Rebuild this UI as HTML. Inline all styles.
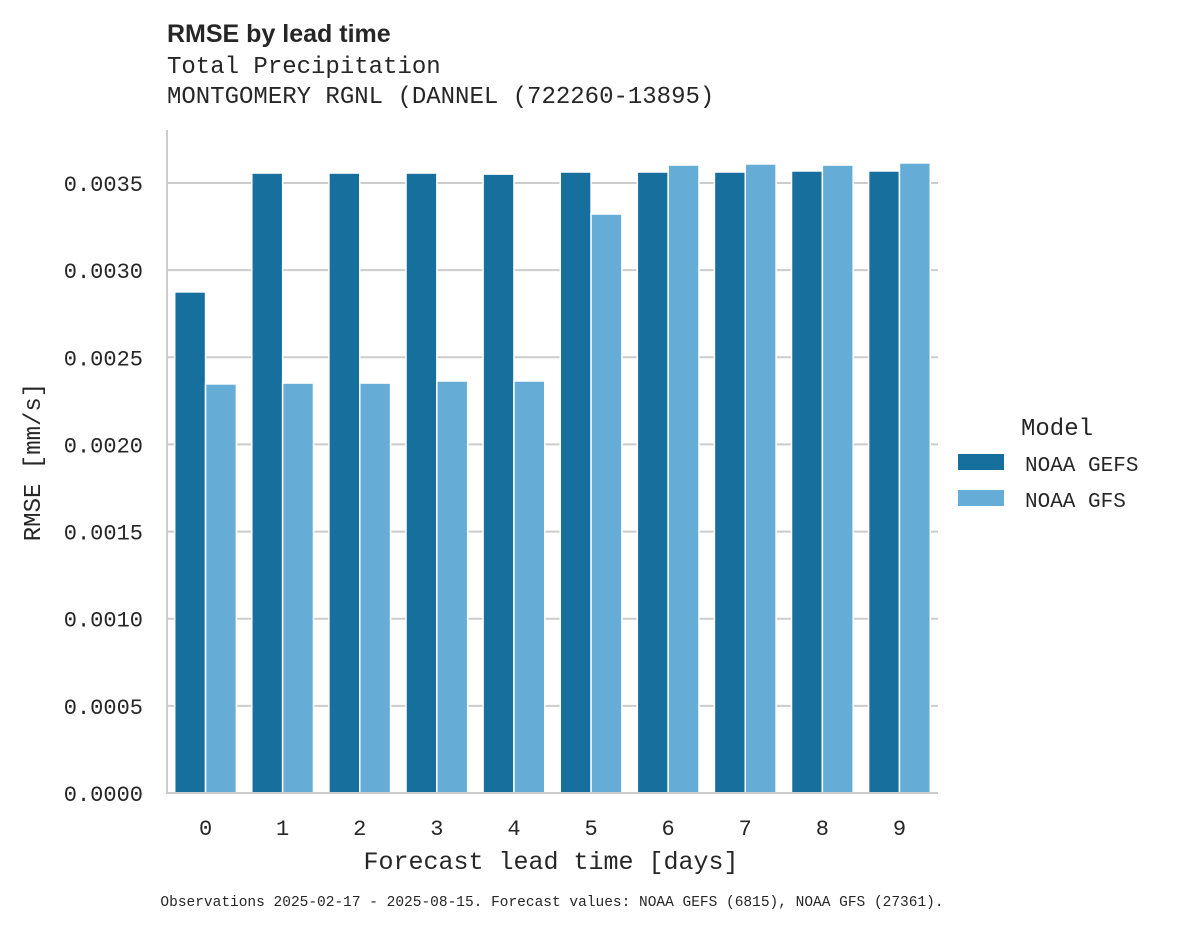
<!DOCTYPE html>
<html><head><meta charset="utf-8"><style>
html,body{margin:0;padding:0;background:#fff;width:1178px;height:928px;overflow:hidden}
svg text{font-family:"Liberation Mono",monospace;fill:#262626}
</style></head><body>
<svg id="chart" width="1178" height="928" xmlns="http://www.w3.org/2000/svg">
<text x="167" y="42" style="font-family:'Liberation Sans',sans-serif;font-weight:bold;font-size:25px">RMSE by lead time</text>
<text x="167" y="73" font-size="24">Total Precipitation</text>
<text x="167" y="103" font-size="24">MONTGOMERY RGNL (DANNEL (722260-13895)</text>
<g id="grid"></g>
<g id="bars"></g>
<line x1="167" y1="130" x2="167" y2="794" stroke="#cccccc" stroke-width="2"/>
<line x1="166" y1="793" x2="938" y2="793" stroke="#cccccc" stroke-width="2"/>
<g id="yticks"></g>
<g id="xticks"></g>
<text x="551" y="869" font-size="25" text-anchor="middle">Forecast lead time [days]</text>
<text transform="translate(40,462) rotate(-90)" font-size="24" text-anchor="middle">RMSE [mm/s]</text>
<text x="1057" y="435" font-size="24" text-anchor="middle">Model</text>
<g><rect x="958" y="454" width="46" height="16" fill="#176f9e"/><text x="1025" y="471" font-size="21">NOAA GEFS</text></g>
<g><rect x="958" y="490" width="46" height="16" fill="#65add6"/><text x="1025" y="507" font-size="21">NOAA GFS</text></g>
<text x="552" y="906" font-size="14.5" text-anchor="middle">Observations 2025-02-17 - 2025-08-15. Forecast values: NOAA GEFS (6815), NOAA GFS (27361).</text>
</svg>
<script>
const categories = ["0","1","2","3","4","5","6","7","8","9"];
const gefsValues = [0.002875,0.003557,0.003557,0.003557,0.003551,0.003563,0.003563,0.003563,0.003569,0.003569];
const gfsValues = [0.002347,0.002352,0.002352,0.002364,0.002364,0.003322,0.003603,0.003609,0.003603,0.003615];
const yTicks = [0,0.0005,0.001,0.0015,0.002,0.0025,0.003,0.0035];
const yTickLabels = ["0.0000","0.0005","0.0010","0.0015","0.0020","0.0025","0.0030","0.0035"];
const NS="http://www.w3.org/2000/svg";
const x0=167,x1=938,y0=793,yTop=183,vTop=0.0035;
const y=v=>y0-(v/vTop)*(y0-yTop);
const step=(x1-x0)/categories.length;
const xc=i=>x0+step*(i+0.5);
function mk(tag,attrs,parent){const e=document.createElementNS(NS,tag);for(const k in attrs)e.setAttribute(k,attrs[k]);parent.appendChild(e);return e;}
const grid=document.getElementById('grid'),yt=document.getElementById('yticks'),xt=document.getElementById('xticks'),bars=document.getElementById('bars');
yTicks.forEach((t,i)=>{
  if(t>0){const l=mk('line',{x1:x0,x2:x1,y1:y(t),y2:y(t),stroke:'#cccccc','stroke-width':2},grid);
  
  }
  const tx=mk('text',{x:143,y:y(t)+8,'font-size':22,'text-anchor':'end'},yt);
  tx.textContent=yTickLabels[i];
  
  
});
const bw=step*0.8/2;
categories.forEach((c,i)=>{
  const g=mk('rect',{x:xc(i)-bw,y:y(gefsValues[i]),width:bw,height:y0-y(gefsValues[i]),fill:'#176f9e',stroke:'#fff','stroke-width':1.5},bars);
  
  
  const f=mk('rect',{x:xc(i),y:y(gfsValues[i]),width:bw,height:y0-y(gfsValues[i]),fill:'#65add6',stroke:'#fff','stroke-width':1.5},bars);
  
  
  const tx=mk('text',{x:xc(i),y:835,'font-size':22,'text-anchor':'middle'},xt);
  tx.textContent=c;
  
  
});
</script>
</body></html>
